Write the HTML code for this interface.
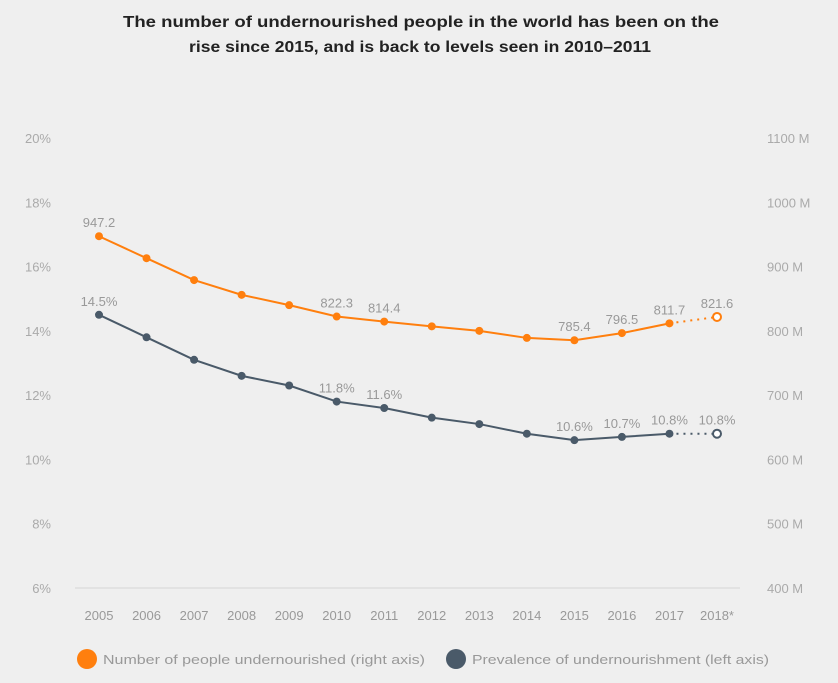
<!DOCTYPE html>
<html><head><meta charset="utf-8"><style>
body{margin:0;background:#efefef;font-family:"Liberation Sans",sans-serif;}
svg text{font-family:"Liberation Sans",sans-serif;}
</style></head><body>
<svg id="chart" width="838" height="678" xmlns="http://www.w3.org/2000/svg">
<rect width="838" height="678" fill="#efefef"/>
<text x="123" y="27" textLength="596" lengthAdjust="spacingAndGlyphs" font-size="16" font-weight="600" fill="#222">The number of undernourished people in the world has been on the</text>
<text x="189" y="52" textLength="462" lengthAdjust="spacingAndGlyphs" font-size="16" font-weight="600" fill="#222">rise since 2015, and is back to levels seen in 2010–2011</text>
<line x1="75" y1="588" x2="740" y2="588" stroke="#d6d6d6"/>
<g id="axes"></g><g id="series"></g>
<circle cx="87" cy="659" r="10" fill="#ff7f0e"/>
<text x="103" y="664" textLength="322" lengthAdjust="spacingAndGlyphs" font-size="13" fill="#999">Number of people undernourished (right axis)</text>
<circle cx="456" cy="659" r="10" fill="#4a5a69"/>
<text x="472" y="664" textLength="297" lengthAdjust="spacingAndGlyphs" font-size="13" fill="#999">Prevalence of undernourishment (left axis)</text>
</svg>
<script>
const years=["2005","2006","2007","2008","2009","2010","2011","2012","2013","2014","2015","2016","2017","2018*"];
const people=[947.2,913,879,856,840,822.3,814.4,807,800,789,785.4,796.5,811.7,821.6];
const prevalence=[14.5,13.8,13.1,12.6,12.3,11.8,11.6,11.3,11.1,10.8,10.6,10.7,10.8,10.8];
const peopleLabels=["947.2","","","","","822.3","814.4","","","","785.4","796.5","811.7","821.6"];
const prevLabels=["14.5%","","","","","11.8%","11.6%","","","","10.6%","10.7%","10.8%","10.8%"];
const leftTicks=[6,8,10,12,14,16,18,20];
const rightTicks=[400,500,600,700,800,900,1000,1100];
const NS="http://www.w3.org/2000/svg";
const xS=i=>99+i*(618/13);
const yL=v=>588-(v-6)*(450/14);
const yR=v=>588-(v-400)*(450/700);
function mk(tag,attrs,parent,txt){const e=document.createElementNS(NS,tag);for(const k in attrs)e.setAttribute(k,attrs[k]);if(txt!==undefined)e.textContent=txt;parent.appendChild(e);return e;}
const ax=document.getElementById('axes'),sr=document.getElementById('series');
leftTicks.forEach(t=>{const e=mk('text',{x:51,y:yL(t)+5,'text-anchor':'end','font-size':13,fill:'#aaa'},ax,t+'%');

});
rightTicks.forEach(t=>{const e=mk('text',{x:767,y:yR(t)+5,'font-size':13,fill:'#aaa'},ax,t+' M');

});
years.forEach((y,i)=>{const e=mk('text',{x:xS(i),y:620,'text-anchor':'middle','font-size':13,fill:'#999'},ax,y);

});
function series(vals,labels,yf,col,name){
 const n=vals.length;
 let d=vals.slice(0,n-1).map((v,i)=>(i?'L':'M')+xS(i)+','+yf(v)).join(' ');
 const p=mk('path',{d:d,fill:'none',stroke:col,'stroke-width':2},sr);
 
 
 const q=mk('line',{x1:xS(n-2),y1:yf(vals[n-2]),x2:xS(n-1),y2:yf(vals[n-1]),stroke:col,'stroke-width':2,'stroke-dasharray':'2,5'},sr);
 
 
 vals.forEach((v,i)=>{const last=i===n-1;
  const c=mk('circle',{cx:xS(i),cy:yf(v),r:4,fill:last?'#fff':col,stroke:col,'stroke-width':last?2:0},sr);
  
  
  if(labels[i]){const t=mk('text',{x:xS(i),y:yf(v)-9,'text-anchor':'middle','font-size':13,fill:'#999'},sr,labels[i]);
  
  }
 });
}
series(people,peopleLabels,yR,'#ff7f0e','people');
series(prevalence,prevLabels,yL,'#4a5a69','prevalence');
</script>
</body></html>
